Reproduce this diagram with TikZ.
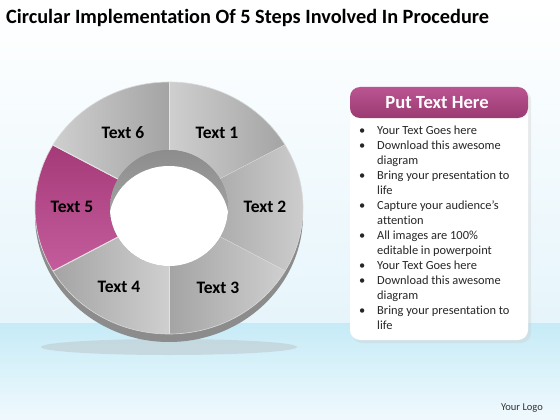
\documentclass[tikz,border=0pt]{standalone}
\usepackage{fontspec}
\setmainfont{Carlito}[BoldFont={Carlito Bold}, Ligatures=NoCommon]
\usetikzlibrary{calc}
\definecolor{segLight}{HTML}{CFCFCF}
\definecolor{segDark}{HTML}{A4A4A4}
\definecolor{ringSide}{HTML}{8C8C8C}
\definecolor{pinkLight}{HTML}{C45C9C}
\definecolor{pinkDark}{HTML}{A53A78}
\definecolor{headTop}{HTML}{BA5592}
\definecolor{headBot}{HTML}{9B3A72}
\definecolor{bandTop}{HTML}{C6EBF7}
\definecolor{bandBot}{HTML}{F0F9FD}
\definecolor{skyBot}{HTML}{E6F5FB}
\tikzset{
  seglabel/.style={font=\fontsize{17.5}{20}\selectfont\bfseries, text=black},
  divider/.style={draw=white!80!gray, line width=0.9pt},
}
\begin{document}
\begin{tikzpicture}[x=1pt,y=1pt]
\useasboundingbox (0,0) rectangle (560,-420);
% background
\shade[top color=white, bottom color=skyBot] (0,0) rectangle (560,-323);
\shade[top color=bandTop, bottom color=bandBot] (0,-323) rectangle (560,-420);
% title
\node[anchor=west, font=\fontsize{20.3}{23}\selectfont\bfseries, inner sep=0pt] (title) at (6,-18) {Circular Implementation Of 5 Steps Involved In Procedure};
% ring shadow + side
\fill[black!30, opacity=0.35] (169,-347) ellipse[x radius=128, y radius=8];
\fill[ringSide] (169,-215) ellipse[x radius=134, y radius=127];
\coordinate (c) at (169,-208);
% sectors
\newcommand{\ringsector}[4]{%
  \shade[#3] ($(c)+(#1:134 and 126)$) arc[start angle=#1, end angle=#2, x radius=134, y radius=126]
    -- ($(c)+(#2:59 and 58)$) arc[start angle=#2, end angle=#1, x radius=59, y radius=58] -- cycle;
  \draw[divider] ($(c)+(#1:59 and 58)$) -- ($(c)+(#1:134 and 126)$);
}
\ringsector{30}{90}{left color=segLight, right color=segDark}{}
\ringsector{-30}{30}{left color=segDark!90, right color=segLight}{}
\ringsector{-90}{-30}{left color=segDark, right color=segLight}{}
\ringsector{-150}{-90}{left color=segDark, right color=segLight}{}
\ringsector{150}{210}{top color=pinkDark, bottom color=pinkLight}{}
\ringsector{90}{150}{left color=segLight, right color=segDark}{}
\draw[divider] ($(c)+(90:59 and 58)$) -- ($(c)+(90:134 and 126)$);
\draw[divider] ($(c)+(150:59 and 58)$) -- ($(c)+(150:134 and 126)$);
\draw[divider] ($(c)+(210:59 and 58)$) -- ($(c)+(210:134 and 126)$);
\draw[white!70!gray, line width=0.6pt] (c) ellipse[x radius=134, y radius=126];
% hole
\begin{scope}
  \clip (c) ellipse[x radius=59, y radius=58];
  \shade[top color=black!45, bottom color=black!30] (110,-148) rectangle (230,-266);
  \fill[white] (169,-222) ellipse[x radius=60, y radius=56];
\end{scope}
% labels
\node[seglabel] (t1) at (217,-133) {Text 1};
\node[seglabel] (t2) at (265,-207) {Text 2};
\node[seglabel] (t3) at (218,-288) {Text 3};
\node[seglabel] (t4) at (119,-287) {Text 4};
\node[seglabel] (t5) at (72,-207) {Text 5};
\node[seglabel] (t6) at (123,-133) {Text 6};
% panel
\fill[black!20, opacity=0.35, rounded corners=10pt] (352,-90) rectangle (531,-343);
\fill[white, rounded corners=10pt] (350,-87) rectangle (528,-340);
\shade[top color=headTop, bottom color=headBot, rounded corners=10pt] (350,-118) -- (350,-87) -- (528,-87) -- (528,-118) -- cycle;
\node[font=\fontsize{18.6}{20}\selectfont\bfseries, text=white] (head) at (437,-103) {Put Text Here};
\node[anchor=north west, inner sep=0pt, font=\fontsize{12.4}{15}\selectfont, text=black!85] (list) at (359,-124) {%
\begin{tabular}{@{}p{18pt}@{}l@{}}
\textbullet & Your Text Goes here\\
\textbullet & Download this awesome\\
 & diagram\\
\textbullet & Bring your presentation to\\
 & life\\
\textbullet & Capture your audience’s\\
 & attention\\
\textbullet & All images are 100\%\\
 & editable in powerpoint\\
\textbullet & Your Text Goes here\\
\textbullet & Download this awesome\\
 & diagram\\
\textbullet & Bring your presentation to\\
 & life
\end{tabular}};
% logo
\node[font=\fontsize{10.5}{12}\selectfont, text=black!80] (logo) at (522,-408) {Your Logo};
\end{tikzpicture}
\end{document}
